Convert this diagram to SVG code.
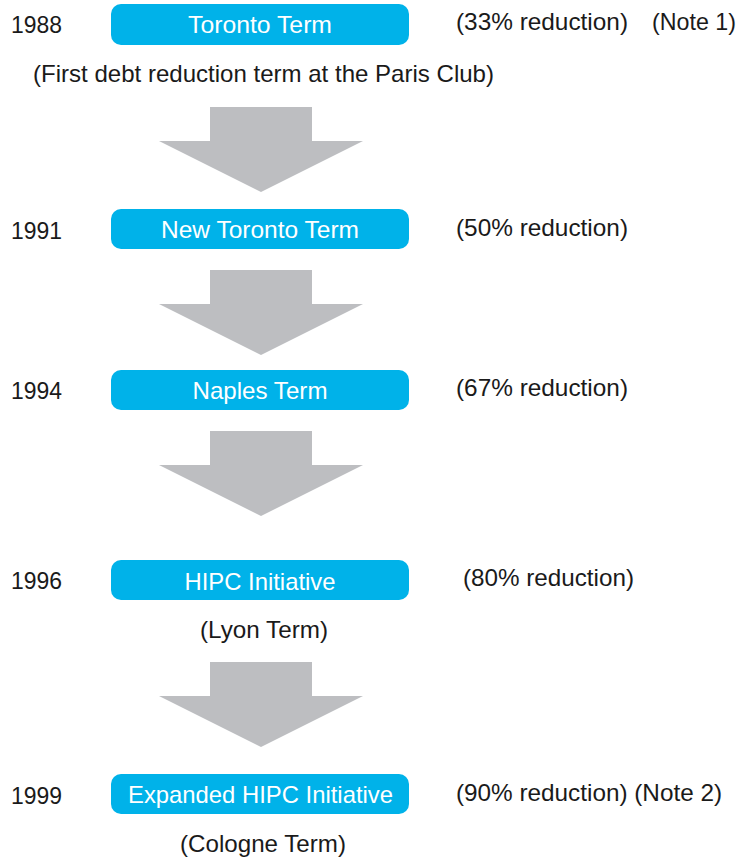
<svg xmlns="http://www.w3.org/2000/svg" width="740" height="858" viewBox="0 0 740 858">
  <defs>
    <style>
      text { font-family: "Liberation Sans", Arial, sans-serif; fill: #1a1a1a; font-size: 24px; }
      .term rect { fill: #00b2e9; }
      .term text { fill: #ffffff; text-anchor: middle; }
      .sub { text-anchor: middle; }
      .flow { fill: #bdbec1; }
    </style>
    <!-- broad down arrow, origin at the top of its shaft -->
    <path id="down" d="M210 0 H312 V34 H363 L261 85 L159 34 H210 Z"/>
  </defs>

  <rect width="740" height="858" fill="#ffffff"/>

  <g id="connectors" class="flow">
    <use href="#down" transform="translate(0,107)"/>
    <use href="#down" transform="translate(0,270)"/>
    <use href="#down" transform="translate(0,431)"/>
    <use href="#down" transform="translate(0,662)"/>
  </g>

  <g id="toronto">
    <text x="11" y="33" textLength="51" lengthAdjust="spacingAndGlyphs">1988</text>
    <g class="term"><rect x="111" y="4" width="298" height="41" rx="10"/><text x="260" y="33" textLength="144" lengthAdjust="spacingAndGlyphs">Toronto Term</text></g>
    <text x="456" y="30" textLength="172" lengthAdjust="spacingAndGlyphs">(33% reduction)</text>
    <text x="652" y="30" textLength="84" lengthAdjust="spacingAndGlyphs">(Note 1)</text>
    <text class="sub" x="263.5" y="82" textLength="461" lengthAdjust="spacingAndGlyphs">(First debt reduction term at the Paris Club)</text>
  </g>

  <g id="new-toronto">
    <text x="11" y="239" textLength="51" lengthAdjust="spacingAndGlyphs">1991</text>
    <g class="term"><rect x="111" y="209" width="298" height="40" rx="10"/><text x="260" y="238" textLength="198" lengthAdjust="spacingAndGlyphs">New Toronto Term</text></g>
    <text x="456" y="236" textLength="172" lengthAdjust="spacingAndGlyphs">(50% reduction)</text>
  </g>

  <g id="naples">
    <text x="11" y="399" textLength="51" lengthAdjust="spacingAndGlyphs">1994</text>
    <g class="term"><rect x="111" y="370" width="298" height="40" rx="10"/><text x="260" y="399" textLength="135" lengthAdjust="spacingAndGlyphs">Naples Term</text></g>
    <text x="456" y="396" textLength="172" lengthAdjust="spacingAndGlyphs">(67% reduction)</text>
  </g>

  <g id="hipc">
    <text x="11" y="589" textLength="51" lengthAdjust="spacingAndGlyphs">1996</text>
    <g class="term"><rect x="111" y="560" width="298" height="40" rx="10"/><text x="260" y="590" textLength="151" lengthAdjust="spacingAndGlyphs">HIPC Initiative</text></g>
    <text x="463" y="586" textLength="171" lengthAdjust="spacingAndGlyphs">(80% reduction)</text>
    <text class="sub" x="264" y="638" textLength="128" lengthAdjust="spacingAndGlyphs">(Lyon Term)</text>
  </g>

  <g id="expanded-hipc">
    <text x="11" y="804" textLength="51" lengthAdjust="spacingAndGlyphs">1999</text>
    <g class="term"><rect x="111" y="774" width="298" height="40" rx="10"/><text x="260.5" y="803" textLength="265" lengthAdjust="spacingAndGlyphs">Expanded HIPC Initiative</text></g>
    <text x="456" y="801" textLength="266" lengthAdjust="spacingAndGlyphs">(90% reduction) (Note 2)</text>
    <text class="sub" x="263" y="852" textLength="166" lengthAdjust="spacingAndGlyphs">(Cologne Term)</text>
  </g>
</svg>
